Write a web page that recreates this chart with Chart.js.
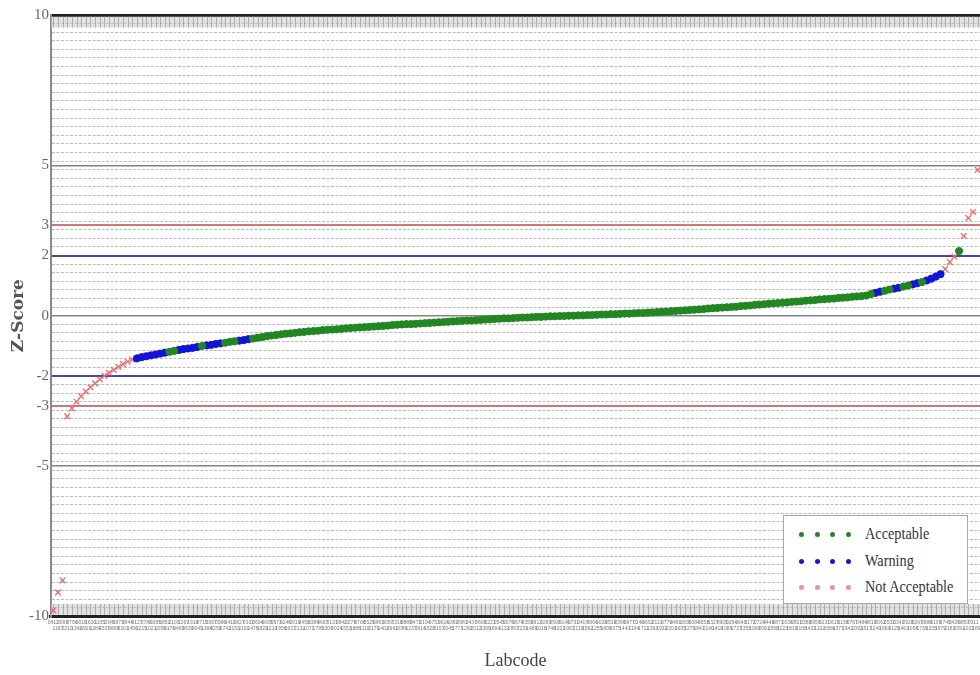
<!DOCTYPE html>
<html>
<head>
<meta charset="utf-8">
<script src="https://cdn.jsdelivr.net/npm/chart.js@4.4.1/dist/chart.umd.min.js"></script>
<style>
  html, body { margin: 0; padding: 0; background: #fff; overflow: hidden; }
  #wrap { position: relative; width: 995px; height: 675px; }
  #legend { position: absolute; left: 783px; top: 515px; width: 185px; height: 89px;
    border: 1px solid #a8a8a8; background: #fff; box-sizing: border-box; }
  .row { position: absolute; left: 0; height: 20px; width: 100%; }
  .dot { position: absolute; top: 8px; width: 5px; height: 5px; border-radius: 50%; }
  .lbl { position: absolute; left: 81px; top: 0; font: 17px "Liberation Serif", serif; color: #333;
    transform: scaleX(0.84); transform-origin: left center; white-space: nowrap; line-height: 20px; }
</style>
</head>
<body>
<div id="wrap">
  <canvas id="c" width="995" height="675"></canvas>
  <div id="legend"></div>
</div>
<script>
// ---- data ----
const labcodes = (
  "0412 1187 0093 2210 0756 1342 0018 0921 1630 0284 " +
  "1105 0537 2048 0669 1873 0301 0944 1456 0127 2215 " +
  "0788 1021 0365 1599 0852 0176 2103 0493 1267 0630 " +
  "1918 0049 0715 1384 2067 0258 0986 1742 0411 1153 " +
  "0827 2191 0332 1476 0604 1829 0095 1210 0573 1958 " +
  "0246 1637 0919 2132 0458 1071 0384 1795 0667 1309 " +
  "0131 2024 0842 1553 0279 1886 0706 1118 0525 2179 " +
  "0963 1402 0057 1661 0318 2086 0889 1237 0472 1914 " +
  "0194 1528 0753 2157 0616 1045 0362 1773 0981 1290 " +
  "0437 2012 0808 1369 0221 1694 0545 1132 0070 1857 " +
  "0674 2231 0359 1489 0912 1016 0283 1748 0590 1321 " +
  "0146 1967 0731 2119 0407 1582 0864 1255 0028 1806 " +
  "0519 2075 0396 1447 0977 1164 0240 1711 0652 1393 " +
  "0113 1932 0779 2203 0461 1605 0836 1276 0084 1841 " +
  "0558 2140 0327 1418 0905 1089 0264 1727 0643 1356 " +
  "0172 1996 0724 2061 0449 1568 0871 1223 0036 1819 " +
  "0501 2168 0388 1431 0956 1102 0231 1684 0615 1377 " +
  "0158 1941 0767 2092 0484 1517 0813 1249 0062 1864 " +
  "0532 2126 0341 1463 0928 1058 0297 1736 0688 1335 " +
  "0109 1979 0745 2183 0426 1591 0857 1202 0011 1892").split(" ");

const zScores = [
  -9.8, -9.2, -8.8,
  -3.35, -3.08, -2.86, -2.68, -2.52, -2.38, -2.25, -2.12, -2.0, -1.9, -1.8, -1.7, -1.61, -1.53, -1.46,
  -1.42, -1.38, -1.35, -1.32, -1.29, -1.26, -1.23, -1.2, -1.17, -1.14, -1.11, -1.09, -1.07, -1.04, -1.01,
  -0.99, -0.97, -0.94, -0.92, -0.9, -0.87, -0.85, -0.83, -0.81, -0.78,
  -0.76, -0.73, -0.71, -0.68, -0.66, -0.64, -0.62, -0.6, -0.59, -0.57, -0.55,
  -0.54, -0.52, -0.51, -0.5, -0.48, -0.47, -0.46, -0.45, -0.44, -0.42, -0.41,
  -0.4, -0.39, -0.38, -0.37, -0.36, -0.35, -0.34, -0.33, -0.31, -0.3,
  -0.29, -0.28, -0.28, -0.27, -0.26, -0.25, -0.24, -0.23, -0.22, -0.21, -0.2,
  -0.19, -0.18, -0.17, -0.16, -0.16, -0.15, -0.14, -0.13, -0.12, -0.11, -0.1,
  -0.09, -0.09, -0.08, -0.07, -0.06, -0.06, -0.05, -0.04, -0.04, -0.03,
  -0.02, -0.02, -0.01, -0.01, 0.0, 0.0, 0.01, 0.01, 0.02, 0.02, 0.03,
  0.04, 0.04, 0.05, 0.05, 0.06, 0.07, 0.07, 0.08, 0.09, 0.09, 0.1,
  0.11, 0.12, 0.13, 0.14, 0.15, 0.16, 0.17, 0.18, 0.19, 0.2,
  0.21, 0.22, 0.24, 0.25, 0.26, 0.27, 0.28, 0.29, 0.3, 0.32, 0.33,
  0.34, 0.36, 0.37, 0.38, 0.4, 0.41, 0.42, 0.43, 0.44, 0.46, 0.47,
  0.48, 0.5, 0.51, 0.52, 0.54, 0.55, 0.56, 0.57, 0.59, 0.6,
  0.61, 0.63, 0.64, 0.65, 0.67,
  0.72, 0.76, 0.8, 0.83, 0.87, 0.9, 0.93, 0.97, 1.0, 1.04, 1.08, 1.12, 1.17, 1.23, 1.3, 1.38,
  1.55, 1.78, 1.96, 2.15, 2.65, 3.25, 3.45, 4.85
];

// A = Acceptable, W = Warning, N = Not Acceptable
const status = (
  "NNNNNNNNNNNNNNNNNN" +
  "WWWWWWWAAWWWWWAWWWWAAAWWW" +
  "AAAAAAAAAAAAAAAAAAAAAAAAAAAAAAAAAAAAAAAAAAAAAAAAAAAAAAAAAAAAAAAAAAAAAAAAAAAAAAAAAAAAAAAAAAAAAAAAAAAAAAAAAAAAAAAAAAAAAAAAAAAAAAAAAAAAA" +
  "AWWAAWWAAWWAWWWW" +
  "NNNANNNN").split("");

const seriesNames = ["Acceptable", "Warning", "Not Acceptable"];
const seriesCodes = ["A", "W", "N"];
const yTickLabels = [10, 5, 3, 2, 0, -2, -3, -5, -10];
const warningLimits = [2, -2];
const actionLimits = [3, -3];
const majorLines = [10, 5, 0, -5, -10];

// ---- styles ----
const colors = { A: "rgb(34,135,34)", W: "rgb(20,20,215)", N: "rgb(232,112,112)" };
const legendDotColors = { A: "rgb(40,130,40)", W: "rgb(25,25,200)", N: "rgb(232,150,150)" };

const datasets = seriesCodes.map((code, k) => ({
  label: seriesNames[k],
  data: zScores.map((v, i) => status[i] === code ? v : null),
  showLine: false,
  pointStyle: code === "N" ? "crossRot" : "circle",
  pointRadius: code === "N" ? 4 : 3.6,
  pointBorderWidth: code === "N" ? 1.4 : 1,
  pointBackgroundColor: colors[code],
  pointBorderColor: colors[code],
  borderColor: colors[code],
  backgroundColor: colors[code]
}));

const near = (a, b) => Math.abs(a - b) < 1e-6;
const isIn = (v, arr) => arr.some(u => near(u, v));

const stripes = {
  id: "stripes",
  beforeDatasetsDraw(chart) {
    const { ctx, chartArea: a, scales: { x } } = chart;
    const h = 11;
    ctx.save();
    ctx.fillStyle = "rgba(200,200,200,0.55)";
    ctx.fillRect(a.left, a.top + 1.5, a.right - a.left, h);
    ctx.fillRect(a.left, a.bottom - 1.5 - h, a.right - a.left, h);
    ctx.strokeStyle = "rgba(135,135,135,0.55)";
    ctx.lineWidth = 1;
    ctx.beginPath();
    labcodes.forEach((_, i) => {
      const px = Math.round(x.getPixelForValue(i)) + 0.5;
      ctx.moveTo(px, a.top + 1.5); ctx.lineTo(px, a.top + 1.5 + h);
      ctx.moveTo(px, a.bottom - 1.5 - h); ctx.lineTo(px, a.bottom - 1.5);
    });
    ctx.stroke();
    ctx.restore();
  }
};

new Chart(document.getElementById("c"), {
  type: "line",
  data: { labels: labcodes, datasets },
  plugins: [stripes],
  options: {
    responsive: false,
    animation: false,
    layout: { padding: { top: 15, right: 15, bottom: 1, left: 10 } },
    plugins: { legend: { display: false }, tooltip: { enabled: false } },
    scales: {
      x: {
        type: "category",
        offset: true,
        grid: { display: true, drawOnChartArea: false, drawTicks: false },
        border: { display: true, color: "#222", width: 3 },
        ticks: {
          autoSkip: false, maxRotation: 0, minRotation: 0, padding: 3,
          color: "#777", font: { size: 5, family: "Liberation Sans" },
          callback: function (val, i) {
            const code = this.getLabelForValue(val);
            return i % 2 === 0 ? [code, ""] : ["", code];
          }
        },
        title: {
          display: true, text: "Labcode", color: "#444",
          font: { size: 18, family: "Liberation Serif" },
          padding: { top: 16, bottom: 2 }
        }
      },
      y: {
        min: -10, max: 10,
        afterBuildTicks: (scale) => {
          const vals = [];
          for (let k = 0; k <= 70; k++) vals.push(-10 + k * 20 / 70);
          yTickLabels.forEach(v => { if (!isIn(v, vals)) vals.push(v); });
          vals.sort((p, q) => p - q);
          scale.ticks = vals.map(v => ({ value: v }));
        },
        grid: {
          drawTicks: false,
          color: (ctx) => {
            const v = ctx.tick ? ctx.tick.value : 0;
            if (near(Math.abs(v), 10)) return "#222";
            if (isIn(v, actionLimits)) return "rgb(205,120,120)";
            if (isIn(v, warningLimits)) return "rgb(70,70,170)";
            if (isIn(v, majorLines)) return "rgba(110,110,110,0.85)";
            return "rgba(165,165,165,0.75)";
          },
          lineWidth: (ctx) => {
            const v = ctx.tick ? ctx.tick.value : 0;
            if (near(Math.abs(v), 10)) return 3;
            if (isIn(v, actionLimits) || isIn(v, warningLimits)) return 2;
            if (isIn(v, majorLines)) return 1.5;
            return 1;
          }
        },
        border: {
          display: true, color: "#8a8a8a", width: 2,
          dash: (ctx) => {
            const v = ctx.tick ? ctx.tick.value : null;
            if (v === null) return [];
            if (isIn(v, yTickLabels)) return [];
            return [3, 1.5];
          }
        },
        ticks: {
          autoSkip: false, padding: 2, color: "#666",
          font: { size: 15, family: "Liberation Serif" },
          callback: (v) => isIn(v, yTickLabels) ? String(Math.round(v)) : ""
        },
        title: {
          display: true, text: "Z-Score", color: "#555",
          font: { size: 17, family: "DejaVu Serif", weight: "bold", lineHeight: 1 },
          padding: { top: 0, bottom: 0 }
        }
      }
    }
  }
});

// ---- legend (HTML, real text) ----
const legendEl = document.getElementById("legend");
const rowTops = [8, 35, 61];
seriesCodes.forEach((code, k) => {
  const row = document.createElement("div");
  row.className = "row";
  row.style.top = rowTops[k] + "px";
  [15, 31, 46, 62].forEach(x => {
    const d = document.createElement("span");
    d.className = "dot";
    d.style.left = x + "px";
    d.style.background = legendDotColors[code];
    row.appendChild(d);
  });
  const t = document.createElement("span");
  t.className = "lbl";
  t.textContent = seriesNames[k];
  row.appendChild(t);
  legendEl.appendChild(row);
});
</script>
</body>
</html>
